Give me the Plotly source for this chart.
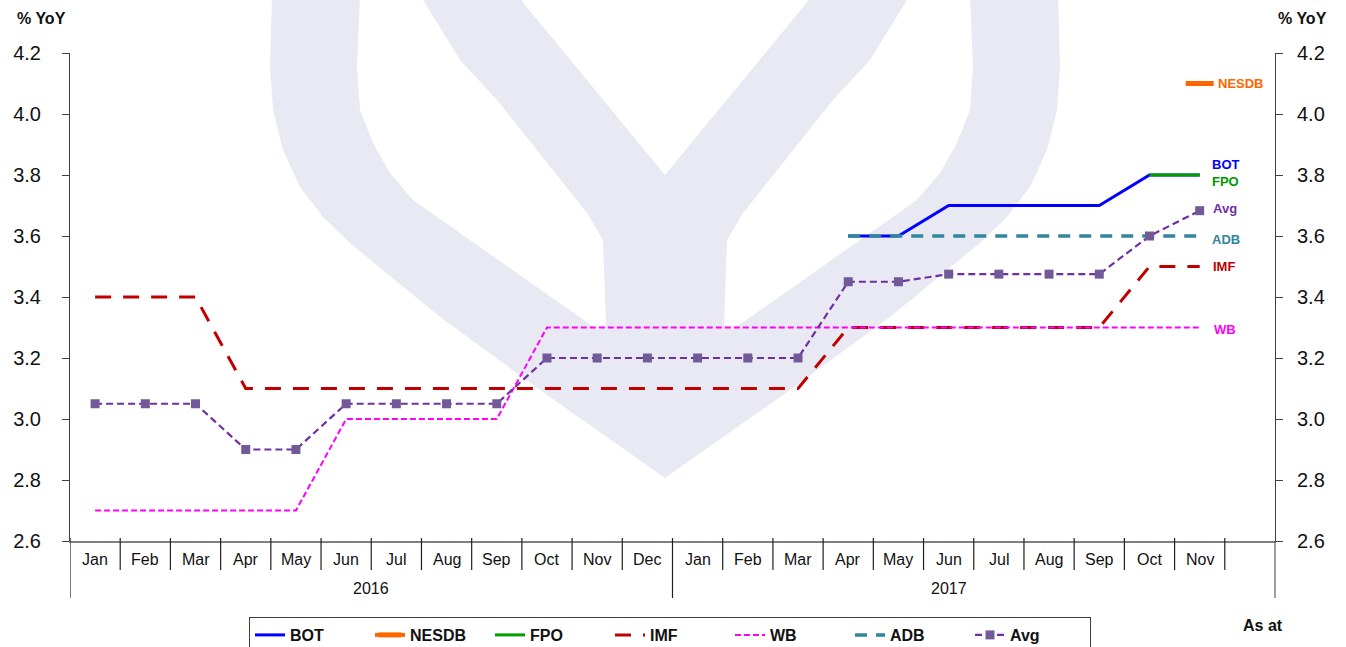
import plotly.graph_objects as go

# ---------------- data ----------------
month_labels = ["Jan", "Feb", "Mar", "Apr", "May", "Jun", "Jul", "Aug", "Sep", "Oct", "Nov", "Dec",
                "Jan", "Feb", "Mar", "Apr", "May", "Jun", "Jul", "Aug", "Sep", "Oct", "Nov"]
year_labels = ["2016", "2017"]
x_idx = list(range(len(month_labels)))

bot = [None] * 15 + [3.6, 3.6, 3.7, 3.7, 3.7, 3.7, 3.8, 3.8]
nesdb = [None] * 22 + [4.1]
fpo = [None] * 21 + [3.8, 3.8]
imf = [3.4, 3.4, 3.4, 3.1, 3.1, 3.1, 3.1, 3.1, 3.1, 3.1, 3.1, 3.1,
       3.1, 3.1, 3.1, 3.3, 3.3, 3.3, 3.3, 3.3, 3.3, 3.5, 3.5]
wb = [2.7, 2.7, 2.7, 2.7, 2.7, 3.0, 3.0, 3.0, 3.0, 3.3, 3.3, 3.3,
      3.3, 3.3, 3.3, 3.3, 3.3, 3.3, 3.3, 3.3, 3.3, 3.3, 3.3]
adb = [None] * 15 + [3.6] * 8
avg = [3.05, 3.05, 3.05, 2.9, 2.9, 3.05, 3.05, 3.05, 3.05, 3.2, 3.2, 3.2,
       3.2, 3.2, 3.2, 3.45, 3.45, 3.475, 3.475, 3.475, 3.475, 3.6, 3.683]

end_label_names = ["NESDB", "BOT", "FPO", "Avg", "ADB", "IMF", "WB"]
end_label_y = [4.1, 3.833, 3.78, 3.69, 3.59, 3.50, 3.295]
end_label_x = [22.32, 22.2, 22.2, 22.22, 22.2, 22.22, 22.24]
end_label_colors = ["#FF6600", "#0000FF", "#009900", "#7030A0", "#31859C", "#C00000", "#FF00FF"]

# ---------------- geometry ----------------
W, H = 1346, 647
L, R, T, B = 70, 1275, 53, 541   # plot area in page pixels


def px2paper(px, py):
    return (px - L) / (R - L), (B - py) / (B - T)


fig = go.Figure()
fig.add_trace(go.Scatter(x=x_idx, y=bot, name="BOT", mode="lines",
                         line=dict(color="#0000FF", width=3)))
fig.add_trace(go.Scatter(x=x_idx, y=nesdb, name="NESDB", mode="lines+markers",
                         line=dict(color="#FF6600", width=4),
                         marker=dict(symbol="line-ew", size=20, color="#FF6600",
                                     line=dict(color="#FF6600", width=5))))
fig.add_trace(go.Scatter(x=x_idx, y=fpo, name="FPO", mode="lines",
                         line=dict(color="#00A000", width=3)))
fig.add_trace(go.Scatter(x=x_idx, y=imf, name="IMF", mode="lines",
                         line=dict(color="#C00000", width=3, dash="16px,12px")))
fig.add_trace(go.Scatter(x=x_idx, y=wb, name="WB", mode="lines",
                         line=dict(color="#FF00FF", width=2, dash="6px,3px")))
fig.add_trace(go.Scatter(x=x_idx, y=adb, name="ADB", mode="lines",
                         line=dict(color="#31859C", width=3.5, dash="12px,9px")))
fig.add_trace(go.Scatter(x=x_idx, y=avg, name="Avg", mode="lines+markers",
                         line=dict(color="#7030A0", width=2.2, dash="7px,4px"),
                         marker=dict(symbol="square", size=9, color="#725A98")))

# ---------------- watermark ----------------
outer_left = [(272, -5), (270, 67), (273, 110), (283, 150), (300, 187), (323, 217),
              (350, 243), (440, 317), (540, 390), (665, 478)]
lobe_left_outer = [(360, -5), (357, 67), (360, 110), (373, 143), (390, 173), (413, 200), (598, 330)]
lobe_left_inner = [(420, -5), (460, 60), (497, 100), (587, 213), (603, 240), (606, 325)]
mir = lambda p: (2 * 665 - p[0], p[1])
pts = []
pts += outer_left
pts += [mir(p) for p in reversed(outer_left[:-1])]
pts += [mir(p) for p in lobe_left_outer]
pts += [mir(p) for p in reversed(lobe_left_inner)]
pts += [(813, -5), (665, 175), (517, -5)]
pts += lobe_left_inner
pts += list(reversed(lobe_left_outer))
path = "M " + " L ".join("%.5f,%.5f" % px2paper(*p) for p in pts) + " Z"
shapes = [dict(type="path", xref="paper", yref="paper", path=path,
               fillcolor="#E9E9F3", line=dict(width=0), layer="below")]

# ---------------- category axis separators ----------------
short_y = -(570 - B) / (B - T)
long_y = -(598 - B) / (B - T)
for i in range(len(month_labels) + 1):
    xb = i - 0.5
    is_long = i in (0, 12)
    shapes.append(dict(type="line", xref="x", yref="paper", x0=xb, x1=xb, y0=0.006,
                       y1=long_y if is_long else short_y,
                       line=dict(color="#202020", width=1.2)))
shapes.append(dict(type="line", xref="paper", yref="paper", x0=1, x1=1, y0=0,
                   y1=long_y, line=dict(color="#404040", width=1)))

annotations = []
for i, m in enumerate(month_labels):
    annotations.append(dict(x=i, y=-(559 - B) / (B - T), xref="x", yref="paper", text=m,
                            showarrow=False, font=dict(family="Arial", size=16, color="#111"),
                            xanchor="center", yanchor="middle"))
annotations.append(dict(x=5.5, y=-(588 - B) / (B - T), xref="x", yref="paper", text=year_labels[0],
                        showarrow=False, font=dict(family="Arial", size=16, color="#111"),
                        xanchor="center", yanchor="middle"))
annotations.append(dict(x=17, y=-(588 - B) / (B - T), xref="x", yref="paper", text=year_labels[1],
                        showarrow=False, font=dict(family="Arial", size=16, color="#111"),
                        xanchor="center", yanchor="middle"))

for n, xv, yv, c in zip(end_label_names, end_label_x, end_label_y, end_label_colors):
    annotations.append(dict(x=xv, y=yv, xref="x", yref="y", text="<b>%s</b>" % n,
                            showarrow=False, font=dict(family="Arial", size=13, color=c),
                            xanchor="left", yanchor="middle"))

for xp in (41, 1302):
    annotations.append(dict(x=(xp - L) / (R - L), y=(B - 18) / (B - T), xref="paper", yref="paper",
                            text="<b>% YoY</b>", showarrow=False,
                            font=dict(family="Arial", size=16, color="#111"),
                            xanchor="center", yanchor="middle"))
annotations.append(dict(x=(1263 - L) / (R - L), y=(B - 625) / (B - T), xref="paper", yref="paper",
                        text="<b>As at</b>", showarrow=False,
                        font=dict(family="Arial", size=16, color="#111"),
                        xanchor="center", yanchor="middle"))

yax = dict(range=[2.6, 4.2], tick0=2.6, dtick=0.2, tickformat=".1f", ticks="outside",
           ticklen=7, tickcolor="#404040", showline=True, linecolor="#404040", linewidth=1,
           showgrid=False, zeroline=False, tickfont=dict(family="Arial", size=20, color="#111"))

fig.update_layout(
    width=W, height=H,
    margin=dict(l=L, r=W - R, t=T, b=H - B, autoexpand=False),
    paper_bgcolor="white", plot_bgcolor="rgba(0,0,0,0)",
    xaxis=dict(range=[-0.5, 23.5], showticklabels=False, ticks="", showline=True,
               linecolor="#808080", linewidth=1.5, showgrid=False, zeroline=False),
    yaxis=dict(**yax, ticklabelstandoff=17),
    yaxis2=dict(**yax, overlaying="y", side="right", ticklabelstandoff=10),
    shapes=shapes, annotations=annotations,
    showlegend=True,
    legend=dict(orientation="h", x=(670 - L) / (R - L), xanchor="center",
                y=-(617 - B) / (B - T), yanchor="top", bgcolor="white",
                bordercolor="#404040", borderwidth=1,
                font=dict(family="Arial", size=16, color="#111", weight="bold"),
                entrywidth=75, entrywidthmode="pixels"),
)
fig.add_trace(go.Scatter(x=[None], y=[None], yaxis="y2", showlegend=False, hoverinfo="skip"))

fig.write_html("out.html", config={"displayModeBar": False},
               post_script="document.body.style.margin='0';document.body.style.overflow='hidden';")
